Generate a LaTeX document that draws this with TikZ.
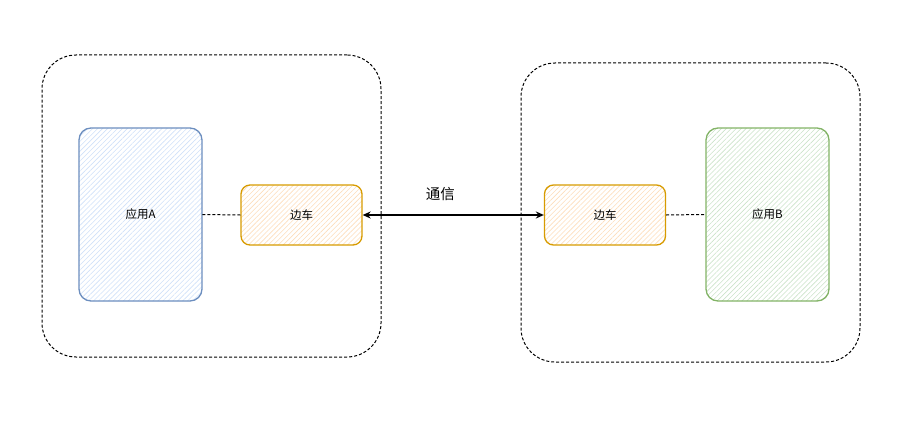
\documentclass[tikz,border=0pt]{standalone}
\usepackage{fontspec}
\setmainfont{Noto Sans CJK SC}
\usetikzlibrary{arrows.meta,patterns.meta,positioning}
\definecolor{blueL}{HTML}{6C8EBF}
\definecolor{blueF}{HTML}{CFE0F8}
\definecolor{orgL}{HTML}{D79B00}
\definecolor{orgF}{HTML}{FCDDBB}
\definecolor{grnL}{HTML}{82B366}
\definecolor{grnF}{HTML}{CBE2C9}
\tikzset{
  container/.style={draw=black, dash pattern=on 3pt off 2pt, line width=1pt, rounded corners=34pt, minimum width=339pt, inner sep=0pt},
  hatchbox/.style={rounded corners=12pt, line width=1.3pt, font=\fontsize{11.5}{12}\selectfont, inner sep=0pt,
     pattern={Lines[angle=45,distance=3.5pt,line width=0.6pt]}},
  appA/.style={hatchbox, draw=blueL, pattern color=blueF, minimum width=123pt, minimum height=173pt},
  appB/.style={hatchbox, draw=grnL, pattern color=grnF, minimum width=123pt, minimum height=173pt},
  side/.style={hatchbox, rounded corners=9pt, draw=orgL, pattern color=orgF, minimum width=121pt, minimum height=60pt},
  link/.style={dash pattern=on 3pt off 2pt, line width=1pt},
  comm/.style={line width=1.4pt, {Stealth[length=8pt,width=7pt]}-{Stealth[length=8pt,width=7pt]}}
}
\begin{document}
\begin{tikzpicture}[x=1pt,y=-1pt]
\useasboundingbox (0,0) rectangle (915,444);
\node[container, minimum height=302pt] (c1) at (211.5,206) {};
\node[container, minimum height=299pt] (c2) at (690.5,212.5) {};
\node[appA] (a) at (140.5,214.5) {应用A};
\node[side] (s1) at (301.5,215) {边车};
\node[side] (s2) at (605,215) {边车};
\node[appB] (b) at (767.5,214.5) {应用B};
\draw[link] (a.east) -- (s1.west);
\draw[link] (s2.east) -- (b.west);
\draw[comm] (s1.east) -- (s2.west) node[midway, above=10pt, xshift=-13pt, font=\fontsize{14.5}{16}\selectfont] (t) {通信};
\end{tikzpicture}
\end{document}
